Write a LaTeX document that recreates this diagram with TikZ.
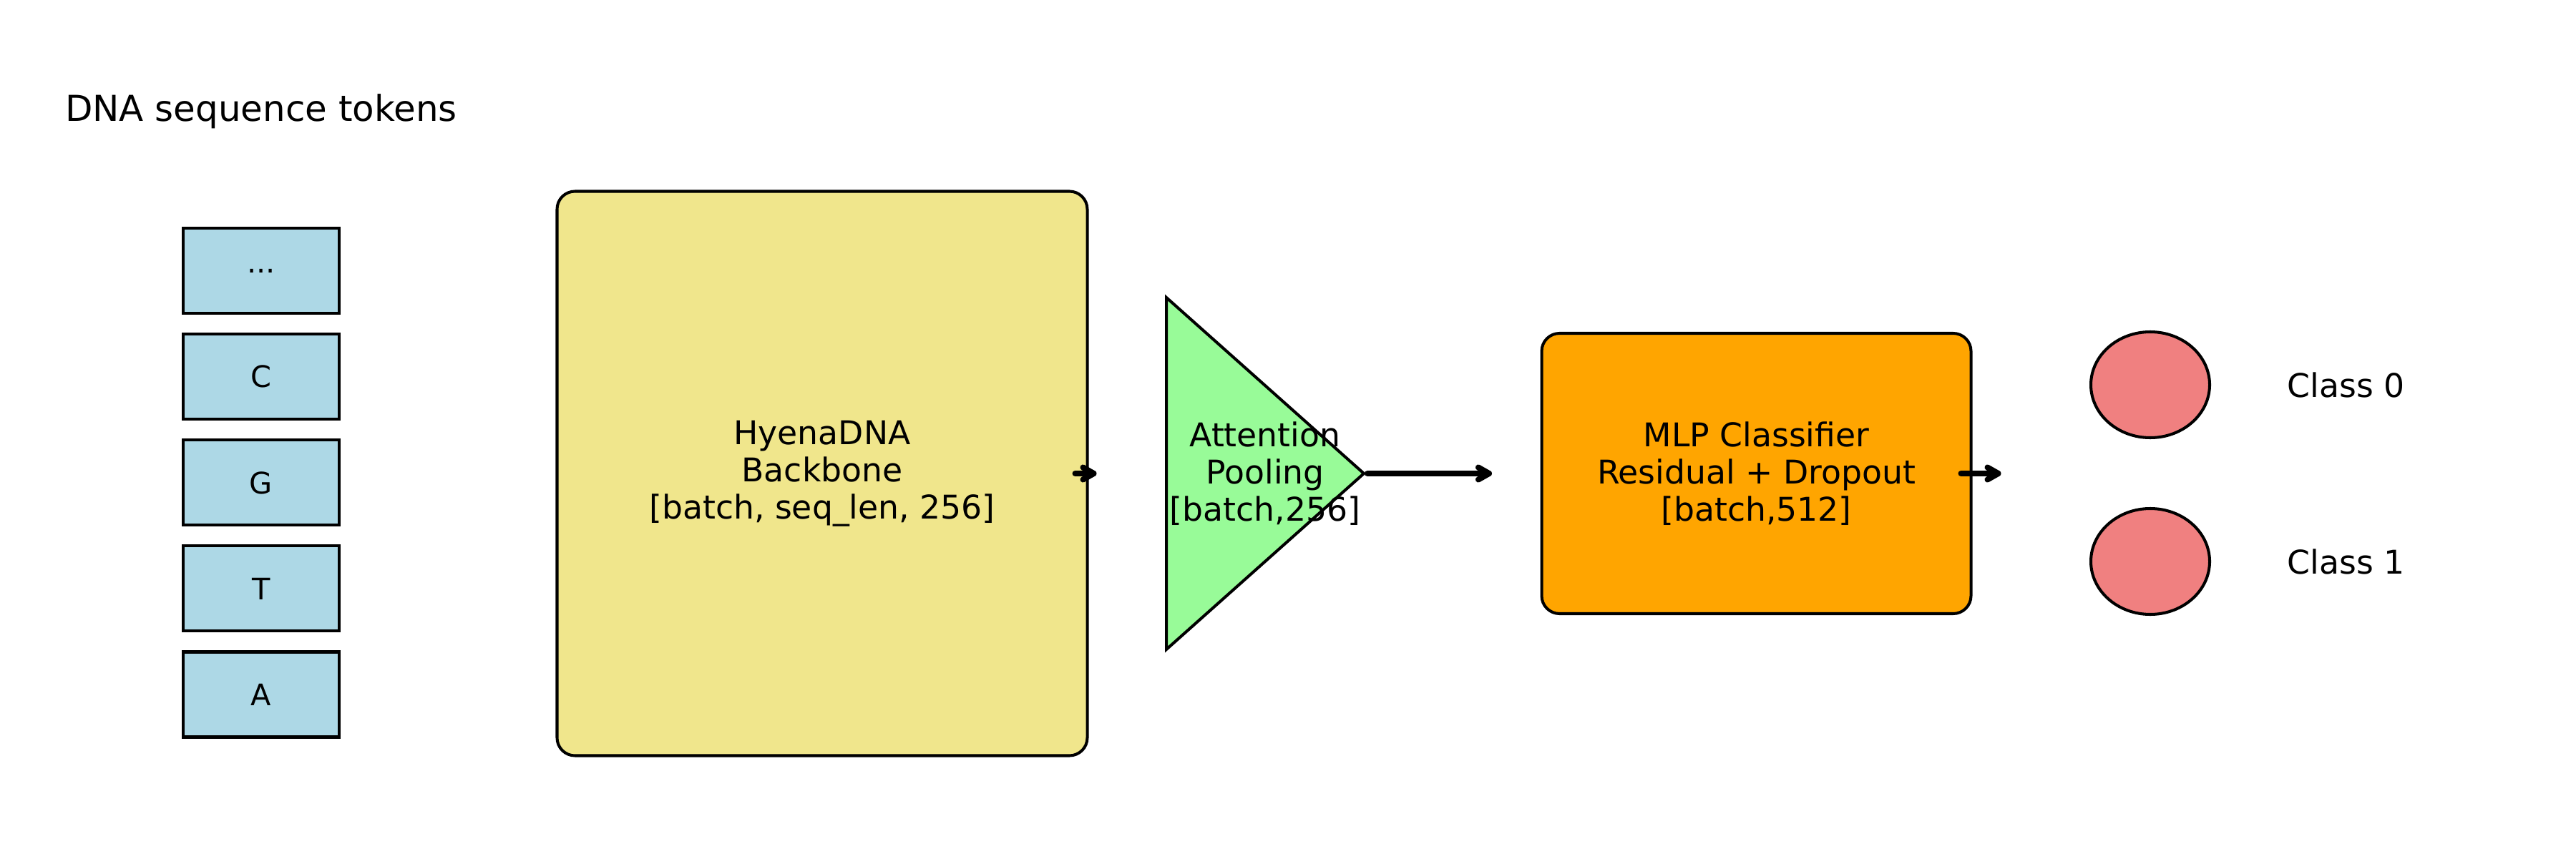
\documentclass[tikz,border=0pt]{standalone}
\usepackage{fontspec}
\setmainfont{DejaVu Sans}
\usetikzlibrary{arrows.meta,positioning,shapes.geometric,calc}
\definecolor{tokenblue}{RGB}{173,216,230}
\definecolor{khaki}{RGB}{240,230,140}
\definecolor{palegreen}{RGB}{152,251,152}
\definecolor{mlporange}{RGB}{255,165,0}
\definecolor{lightcoral}{RGB}{240,128,128}

\begin{document}
\begin{tikzpicture}[node distance=0.25cm, line width=1.15pt,
    lbl/.style={font=\fontsize{13pt}{14.8pt}\selectfont, align=center},
    tokenbox/.style={draw, fill=tokenblue, minimum width=2.18cm, minimum height=1.19cm, inner sep=0pt, font=\fontsize{11.8pt}{14pt}\selectfont},
    block/.style={draw, rounded corners=0.25cm, lbl, inner sep=0pt},
    classdot/.style={draw, ellipse, fill=lightcoral, minimum width=1.66cm, minimum height=1.48cm, inner sep=0pt},
    flow/.style={-{Straight Barb[length=1.5mm, width=1.7mm, round]}, line width=2.3pt, line cap=round}]
  \useasboundingbox (0,0) rectangle (36,12);

  % input tokens
  \node[font=\fontsize{14.2pt}{17pt}\selectfont, anchor=base] (title) at (3.65,10.30) {DNA sequence tokens};
  \node[tokenbox] (tokA) at (3.65,2.29) {A};
  \node[tokenbox, above=of tokA] (tokT) {T};
  \node[tokenbox, above=of tokT] (tokG) {G};
  \node[tokenbox, above=of tokG] (tokC) {C};
  \node[tokenbox, above=of tokC] (tokdots) {...};

  % backbone
  \node[block, fill=khaki, minimum width=7.41cm, minimum height=7.89cm] (backbone) at (11.49,5.38) {HyenaDNA\\Backbone\\{[batch, seq\_len, 256]}};

  % pooling triangle
  \coordinate (pooltop) at (16.30,7.84);
  \coordinate (poolbot) at (16.30,2.92);
  \coordinate (pooltip) at (19.06,5.38);
  \draw[fill=palegreen] (pooltop) -- (pooltip) -- (poolbot) -- cycle;
  \node[lbl] (pool) at (17.68,5.38) {Attention\\Pooling\\{[batch,256]}};

  % classifier
  \node[block, fill=mlporange, minimum width=6.00cm, minimum height=3.92cm] (mlp) at (24.545,5.38) {MLP Classifier\\Residual + Dropout\\{[batch,512]}};

  % outputs
  \node[classdot] (cls0) at (30.05,6.62) {};
  \node[classdot] (cls1) at (30.05,4.15) {};
  \node[lbl, anchor=west] (lab0) at (31.83,6.62) {Class 0};
  \node[lbl, anchor=west] (lab1) at (31.83,4.15) {Class 1};

  % arrows
  \coordinate (bbstart) at ($(backbone.east)+(-0.19,0)$);
  \coordinate (bbend) at ($(backbone.east)+(0.11,0)$);
  \coordinate (poolend) at (20.85,5.38);
  \coordinate (mlpstart) at ($(mlp.east)+(-0.16,0)$);
  \coordinate (mlpend) at ($(mlp.east)+(0.40,0)$);
  \draw[flow] (bbstart) -- (bbend);
  \draw[flow] ($(pooltip)+(0.05,0)$) -- (poolend);
  \draw[flow] (mlpstart) -- (mlpend);
\end{tikzpicture}
\end{document}
